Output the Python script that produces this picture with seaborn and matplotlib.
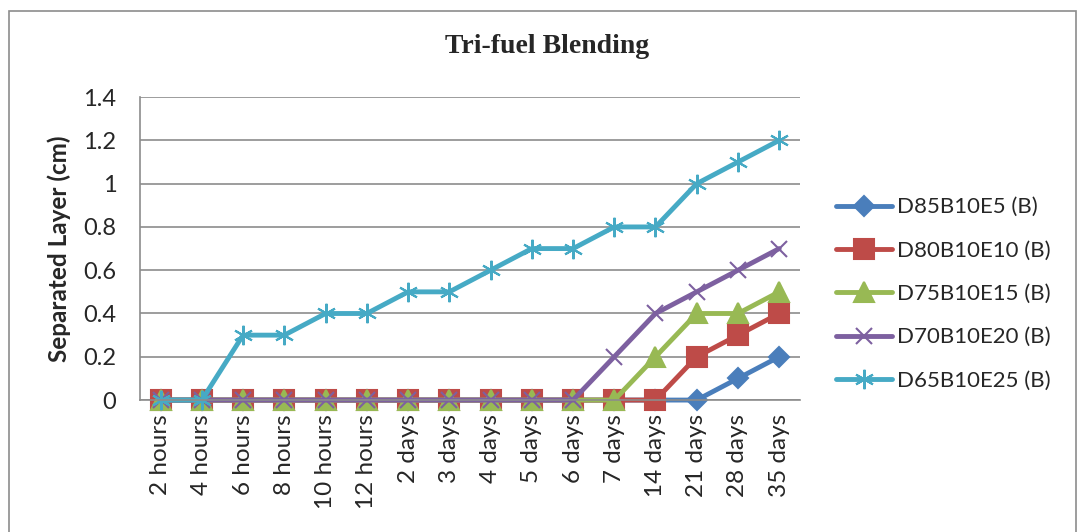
import numpy as np
import pandas as pd
import seaborn as sns
import matplotlib.pyplot as plt
from matplotlib.patches import Rectangle

categories = ['2 hours', '4 hours', '6 hours', '8 hours', '10 hours', '12 hours',
              '2 days', '3 days', '4 days', '5 days', '6 days', '7 days',
              '14 days', '21 days', '28 days', '35 days']
d85 = [0, 0, 0, 0, 0, 0, 0, 0, 0, 0, 0, 0, 0, 0, 0.1, 0.2]
d80 = [0, 0, 0, 0, 0, 0, 0, 0, 0, 0, 0, 0, 0, 0.2, 0.3, 0.4]
d75 = [0, 0, 0, 0, 0, 0, 0, 0, 0, 0, 0, 0, 0.2, 0.4, 0.4, 0.5]
d70 = [0, 0, 0, 0, 0, 0, 0, 0, 0, 0, 0, 0.2, 0.4, 0.5, 0.6, 0.7]
d65 = [0, 0, 0.3, 0.3, 0.4, 0.4, 0.5, 0.5, 0.6, 0.7, 0.7, 0.8, 0.8, 1.0, 1.1, 1.2]
series_names = ['D85B10E5 (B)', 'D80B10E10 (B)', 'D75B10E15 (B)', 'D70B10E20 (B)', 'D65B10E25 (B)']

sns.set_style('white')
plt.rcParams['font.family'] = ['Lato', 'DejaVu Sans']

df = pd.DataFrame({'time': categories, series_names[0]: d85, series_names[1]: d80,
                   series_names[2]: d75, series_names[3]: d70, series_names[4]: d65})
df['pos'] = np.arange(len(categories))

colors = ['#4A7EBB', '#BE4B48', '#98B954', '#7D60A0', '#46AAC5']
markers = ['D', 's', '^', 'x', (6, 2, 0)]
msizes = [10, 14, 14, 12, 14]

fig = plt.figure(figsize=(10.8, 5.32), dpi=100)
ax = fig.add_axes([0.1296, 0.248, 0.611, 0.5695])

for name, c, m, ms in zip(series_names, colors, markers, msizes):
    sns.lineplot(data=df, x='pos', y=name, ax=ax, color=c, linewidth=3.5,
                 marker=m, markersize=ms, markeredgecolor=c, markeredgewidth=1.5,
                 label=name, solid_capstyle='round', clip_on=False)

ax.set_xlim(-0.5, len(categories) - 0.5)
ax.set_ylim(0, 1.4)
ax.set_yticks(np.arange(0, 1.41, 0.2))
ax.set_yticklabels(['0', '0.2', '0.4', '0.6', '0.8', '1', '1.2', '1.4'], fontsize=17)
ax.set_xticks(df['pos'])
ax.set_xticklabels(categories, rotation=90, fontsize=17.5)
ax.tick_params(axis='x', length=0, pad=10)
ax.tick_params(axis='y', length=0, pad=17)
ax.yaxis.grid(True, color='#8C8C8C', linewidth=1.2)
ax.set_axisbelow(True)
for s in ['top', 'right']:
    ax.spines[s].set_visible(False)
for s in ['left', 'bottom']:
    ax.spines[s].set_color('#8C8C8C')
    ax.spines[s].set_linewidth(1.2)
ax.set_xlabel('')
ax.set_ylabel('Separated Layer (cm)', fontsize=17.5, fontweight='bold')
ax.yaxis.set_label_coords(-0.104, 0.5)
fig.text(0.507, 0.912, 'Tri-fuel Blending', ha='center', va='center',
         fontsize=20, fontweight='bold', family='Liberation Serif')

ax.legend(loc='center left', bbox_to_anchor=(1.025, 0.35), frameon=False,
          fontsize=16, labelspacing=1.05, handlelength=2.5, handletextpad=0.25)

fig.patches.append(Rectangle((0.008, -0.05), 0.988, 1.03, transform=fig.transFigure,
                             fill=False, edgecolor='#8C8C8C', linewidth=1.2))

fig.savefig('out.png', dpi=100)
